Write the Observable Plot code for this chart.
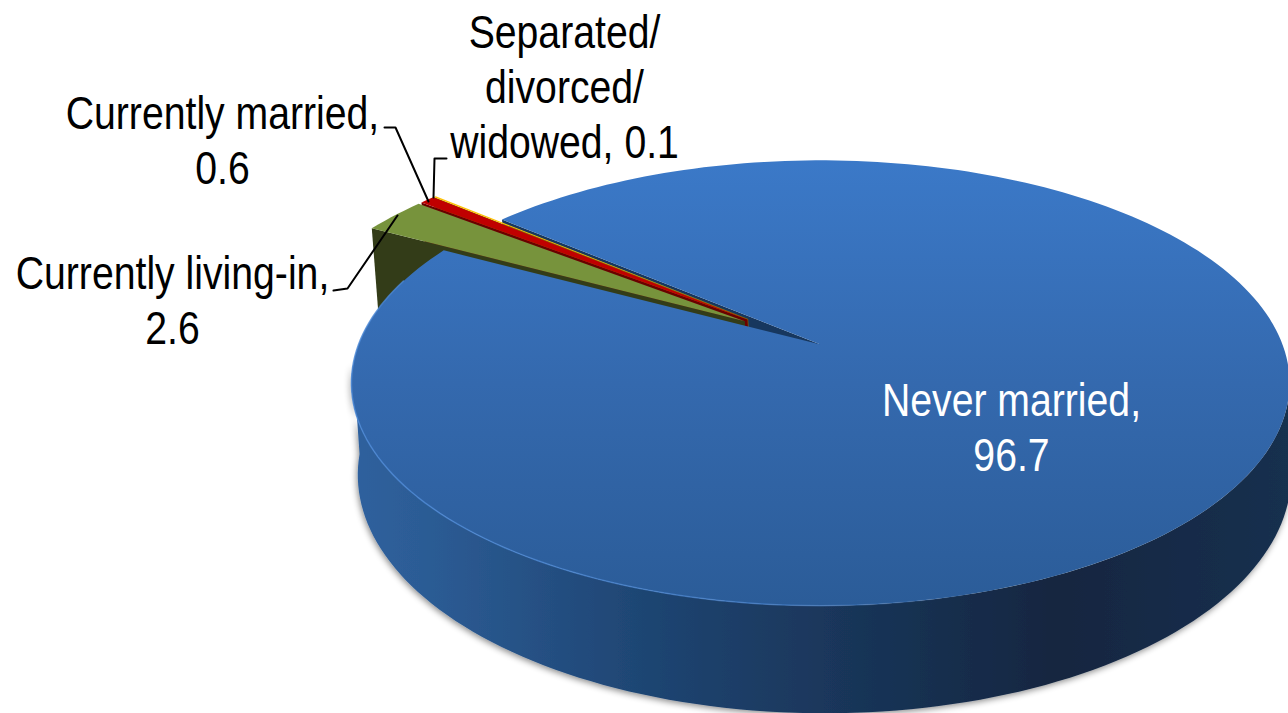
<!DOCTYPE html>
<html><head><meta charset="utf-8">
<script src="https://cdn.jsdelivr.net/npm/d3@7"></script>
<script src="https://cdn.jsdelivr.net/npm/@observablehq/plot@0.6"></script>
<style>html,body{margin:0;padding:0;background:#fff;overflow:hidden}svg{display:block}</style>
</head><body><div id="chart"></div>
<script>
const categories = ["Never married", "Currently living-in", "Currently married", "Separated/divorced/widowed"];
const shares = [96.7, 2.6, 0.6, 0.1];
const labelLines = ["Never married,\n96.7", "Currently living-in,\n2.6", "Currently married,\n0.6", "Separated/\ndivorced/\nwidowed, 0.1"];

// layout, in picture coordinates
const W = 1288, H = 713;
const view = {cx: 820, cy: 344, a: 462, b: 216, p: 0.173, depth: 89, shiftX: 4, shrink: 0.005};
const firstAngle = 310, explode = 0.2, wedgeRadius = 1.025, explodeSpread = 0.5;
const labelX = [1011, 172, 222, 564], labelY = [425, 298, 138, 85];
const labelColor = ["#ffffff", "#000000", "#000000", "#000000"];
const sliceTop = ["url(#top)", "#77933c", "#c00000", "#ffc000"];
const sliceWall = ["#17375e", "#333c18", "#6a0000", "#8a6a00"];
const leaders = [
  [[333, 290], [347, 288], [397, 215]],
  [[384, 127], [395, 127], [428, 201]],
  [[446, 158], [434, 158], [433, 197]]
];

function project(u, v, z = 0) {
  const s = 1 / (1 - view.p * v);
  return {
    x: view.cx + view.shiftX * z + view.a * (1 - view.shrink * z) * u * s,
    y: view.cy + (view.b * v + view.depth * z) * s
  };
}
const rad = d => d * Math.PI / 180;
const dir = phi => [Math.sin(rad(phi)), -Math.cos(rad(phi))];

const total = d3.sum(shares);
const groupSweep = d3.sum(shares.slice(1)) / total * 360;
const groupMid = firstAngle - groupSweep / 2;
let acc = firstAngle;
const slices = shares.map((value, i) => {
  const a0 = acc, a1 = acc + value / total * 360;
  acc = a1;
  const ownMid = ((a0 + a1) / 2) % 360;
  const mid = dir(groupMid + explodeSpread * (ownMid - groupMid)), d = i === 0 ? 0 : explode;
  return {i, a0, a1, tu: mid[0] * d, tv: mid[1] * d, r: i === 0 ? 1 : wedgeRadius};
});
function arc(sl, z = 0, from = sl.a0, to = sl.a1) {
  const n = Math.max(2, Math.ceil(Math.abs(to - from) / 1.5));
  return d3.range(n + 1).map(k => {
    const [du, dv] = dir(from + (to - from) * k / n);
    return project(sl.tu + sl.r * du, sl.tv + sl.r * dv, z);
  });
}
const topPoly = sl => [project(sl.tu, sl.tv), ...arc(sl)];
function radialWall(sl, phi) {
  const [du, dv] = dir(phi);
  const ou = sl.tu + sl.r * du, ov = sl.tv + sl.r * dv;
  return [project(sl.tu, sl.tv), project(ou, ov), project(ou, ov, 1), project(sl.tu, sl.tv, 1)];
}
const poly = (pts, fill) => Plot.line(pts, {x: "x", y: "y", fill, stroke: "none", curve: "linear-closed"});

const [blue, green, red, yellow] = slices;
const unit = {tu: 0, tv: 0, r: 1};
const sideWall = [...arc(unit, 0, 95, 265), ...arc(unit, 1, 265, 95)];

const marks = [
  poly(sideWall, "url(#wall)"),
  poly(radialWall(blue, blue.a0), sliceWall[0]),
  poly(radialWall(yellow, yellow.a0), sliceWall[3]),
  poly(radialWall(red, red.a0), sliceWall[2]),
  poly(radialWall(green, green.a0), sliceWall[1]),
  poly(topPoly(blue), sliceTop[0]),
  Plot.line(arc(blue, 0, 150, 288), {x: "x", y: "y", stroke: "url(#rim)", strokeWidth: 1.5}),
  poly(topPoly(green), sliceTop[1]),
  poly(topPoly(red), sliceTop[2]),
  poly(topPoly(yellow), sliceTop[3]),
  ...leaders.map(l => Plot.line(l, {x: d => d[0], y: d => d[1], stroke: "#000", strokeWidth: 2, curve: "linear"})),
  Plot.text(labelLines, {
    x: (d, i) => labelX[i], y: (d, i) => labelY[i], text: d => d,
    fill: (d, i) => labelColor[i], lineHeight: 1.2, textAnchor: "middle",
    fontFamily: "Liberation Sans", fontSize: 46
  })
];

const chart = Plot.plot({
  width: W, height: H, margin: 0,
  style: {background: "#fff", overflow: "hidden"},
  x: {domain: [0, W], range: [0, W], axis: null},
  y: {domain: [0, H], range: [0, H], axis: null},
  color: {type: "identity"},
  marks
});
const svg = d3.select(chart);
const defs = svg.insert("defs", ":first-child");
const grad = (id, x2, y2, stops) => {
  const g = defs.append("linearGradient").attr("id", id).attr("x1", 0).attr("y1", 0).attr("x2", x2).attr("y2", y2);
  stops.forEach(([o, c, a]) => g.append("stop").attr("offset", o).attr("stop-color", c).attr("stop-opacity", a === undefined ? 1 : a));
};
grad("top", 0, 1, [[0, "#3b79c8"], [0.5, "#3469ae"], [1, "#2b5c98"]]);
grad("wall", 1, 0, [[0, "#2f619e"], [0.1, "#2b5a92"], [0.3, "#1f4674"], [0.5, "#1a375c"], [0.75, "#132640"], [1, "#17304f"]]);
grad("rim", 1, 0, [[0, "#4b88d6", 0.8], [0.55, "#4b88d6", 0.6], [0.85, "#4b88d6", 0]]);
const f = defs.append("filter").attr("id", "shadow").attr("x", "-5%").attr("y", "-5%").attr("width", "110%").attr("height", "110%");
f.append("feDropShadow").attr("dx", -1).attr("dy", 2).attr("stdDeviation", 3).attr("flood-color", "#000").attr("flood-opacity", 0.45);
svg.selectAll("path").filter(function () {
  return this.getAttribute("fill") === "url(#wall)" || this.parentNode.getAttribute("fill") === "url(#wall)";
}).attr("filter", "url(#shadow)");
svg.selectAll('g[aria-label="text"] text').each(function () {
  const t = this.getAttribute("transform") || "";
  this.setAttribute("transform", t + " scale(0.852,1)");
});
document.getElementById("chart").append(chart);
</script>
</body></html>
